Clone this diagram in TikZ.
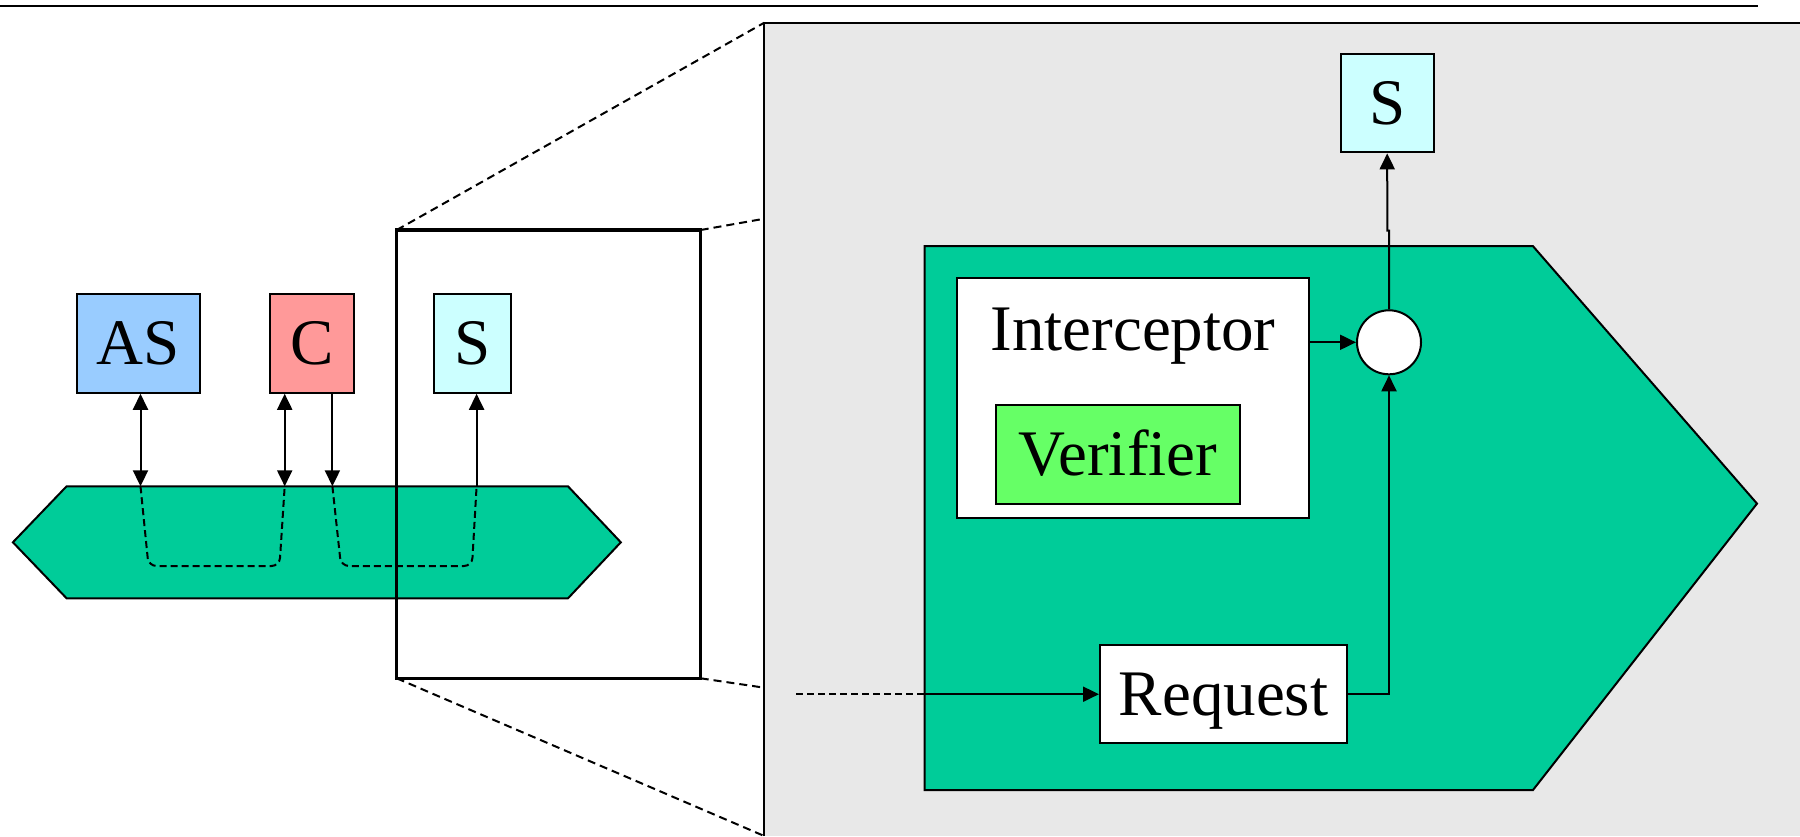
\documentclass[tikz,border=0pt]{standalone}
\usepackage{fontspec}
\setmainfont{Liberation Serif}
\usetikzlibrary{arrows.meta,calc}
\definecolor{bus}{HTML}{00CC99}
\definecolor{asfill}{HTML}{99CCFF}
\definecolor{cfill}{HTML}{FF9999}
\definecolor{sfill}{HTML}{CCFFFF}
\definecolor{verfill}{HTML}{66FF66}
\definecolor{panelgray}{HTML}{E8E8E8}
\begin{document}
\begin{tikzpicture}[x=1pt,y=-1pt,
  >={Triangle[length=16pt,width=15pt]},
  box/.style={draw, line width=2pt, inner sep=0pt,
    font=\fontsize{65}{70}\selectfont, text height=43pt, text depth=0pt},
  wire/.style={line width=2pt},
  dashwire/.style={line width=2pt, dash pattern=on 7pt off 4pt},
  zoomline/.style={line width=2pt, dash pattern=on 8pt off 5pt},
]
\useasboundingbox (0,0) rectangle (1800,836);

% rule across the top
\draw[line width=2.2pt] (0,5.7) -- (1758,5.7);

% magnified frame corners and panel edge points
\coordinate (fTL) at (396.7,230);
\coordinate (fTR) at (700.7,230);
\coordinate (fBR) at (700.7,678.3);
\coordinate (fBL) at (396.7,678.3);
\coordinate (pTL) at (764.3,22.7);
\coordinate (pTR) at (764.3,218.7);
\coordinate (pBR) at (764.3,687.7);
\coordinate (pBL) at (764.3,836);

\draw[zoomline] (fTL) -- (pTL);
\draw[zoomline] (fTR) -- (pTR);
\draw[zoomline] (fBR) -- (pBR);
\draw[zoomline] (fBL) -- (pBL);

% grey detail panel
\fill[panelgray] (pTL) rectangle (1800,836);
\draw[wire] (pBL) -- (pTL) -- (1800,22.7);

% ---------- overview ----------
\draw[wire, fill=bus] (12.9,542.3) -- (66.6,486.3) -- (568,486.3) -- (620.8,542.3)
  -- (568,598.3) -- (66.6,598.3) -- cycle;

\node[box, fill=asfill, minimum width=123pt, minimum height=98.7pt] (AS) at (138.2,343.4) {AS};
\node[box, fill=cfill, minimum width=84pt, minimum height=98.7pt] (C) at (312,343.4) {C};
\node[box, fill=sfill, minimum width=77pt, minimum height=98.7pt] (S) at (472.5,343.4) {S};

\coordinate (pAS) at (140.5,486.3);
\coordinate (pC1) at (284.7,486.3);
\coordinate (pC2) at (332.4,486.3);
\coordinate (pS) at (476.6,486.3);

\draw[wire, <->] (pAS |- AS.south) -- (pAS);
\draw[wire, <->] (pC1 |- C.south) -- (pC1);
\draw[wire, ->] (pC2 |- C.south) -- (pC2);
\draw[wire, ->] (pS) -- (pS |- S.south);

\draw[dashwire, rounded corners=8pt] (pAS) -- (148.5,566) -- (279.5,566) -- (pC1);
\draw[dashwire, rounded corners=8pt] (pC2) -- (341,566) -- (472,566) -- (pS);

\draw[line width=3.5pt] (fTL) rectangle (fBR);

% ---------- detail ----------
\draw[wire, fill=bus] (924.6,246.2) -- (1533,246.2) -- (1757,503.6) -- (1533,790)
  -- (924.6,790) -- cycle;

\node[box, fill=sfill, minimum width=93pt, minimum height=98.7pt] (S2) at (1387.2,103) {S};

\node[draw, line width=2pt, fill=white, minimum width=352.5pt, minimum height=240pt,
  inner sep=0pt] (intbox) at (1133,397.9) {};
\node[font=\fontsize{65}{70}\selectfont, anchor=base, inner sep=0pt] (inttext) at (1133,350) {Interceptor};
\node[box, fill=verfill, minimum width=244pt, minimum height=99pt] (ver) at (1117.9,454.1) {Verifier};

\node[draw, line width=2pt, fill=white, circle, minimum size=64pt, inner sep=0pt] (circ) at (1389,342.3) {};

\node[box, fill=white, minimum width=247pt, minimum height=98.3pt] (req) at (1223.5,694.2) {Request};

\draw[wire, ->] (circ.west -| intbox.east) -- (circ.west);
\draw[wire, ->] (req.east) -| (circ.south);

\coordinate (jog) at (1389,230.7);
\draw[wire, ->] (circ.north) -- (jog) -- ++(-1.7,0) -- (S2.south);

\coordinate (inStart) at (796,694.2);
\coordinate (inEdge) at (924.6,694.2);
\draw[dashwire] (inStart) -- (inEdge);
\draw[wire, ->] (inEdge) -- (req.west);
\end{tikzpicture}
\end{document}
